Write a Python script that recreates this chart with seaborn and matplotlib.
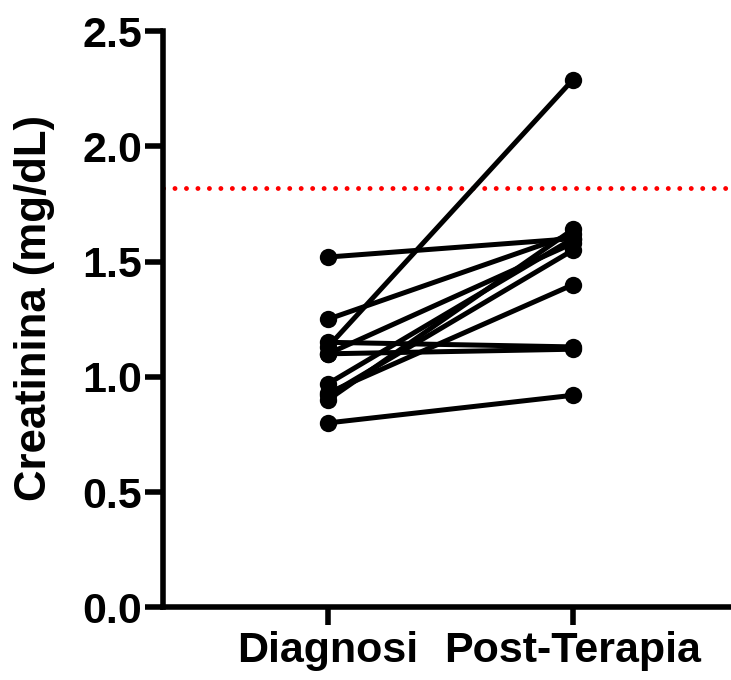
import numpy as np
import pandas as pd
import matplotlib
matplotlib.use("Agg")
import matplotlib.pyplot as plt
import seaborn as sns

# Data
groups = ["Diagnosi", "Post-Terapia"]
diagnosi = [1.52, 1.25, 1.13, 1.15, 1.10, 1.10, 0.97, 0.93, 0.92, 0.90, 0.80]
post_terapia = [1.60, 1.62, 2.29, 1.13, 1.12, 1.58, 1.60, 1.40, 1.55, 1.64, 0.92]
threshold = 1.82
y_ticks = [0.0, 0.5, 1.0, 1.5, 2.0, 2.5]
y_label = "Creatinina (mg/dL)"

rows = []
for i, (a, b) in enumerate(zip(diagnosi, post_terapia)):
    rows.append({"id": i, "group": groups[0], "value": a})
    rows.append({"id": i, "group": groups[1], "value": b})
df = pd.DataFrame(rows)

sns.set_style("ticks")
plt.rcParams["font.family"] = ["Liberation Sans", "DejaVu Sans"]
plt.rcParams["font.weight"] = "bold"

fig = plt.figure(figsize=(7.31, 6.8), dpi=100)
ax = fig.add_axes([0.223, 0.107, 0.777, 0.847])

ax.axhline(threshold, color="#ff0000", lw=3.5, linestyle=(0, (0.01, 2.35)),
           dash_capstyle="round", zorder=1)

sns.lineplot(data=df, x="group", y="value", units="id", estimator=None,
             color="black", lw=3.6, marker="o", markersize=12.5,
             markeredgewidth=0, ax=ax, zorder=3)

ax.set_xlim(-0.673, 1.645)
ax.set_ylim(0, 2.5)
ax.set_yticks(y_ticks)
ax.set_yticklabels([f"{t:.1f}" for t in y_ticks])
ax.set_xlabel("")
ax.set_ylabel(y_label, fontsize=31.5, fontweight="bold", color="black")
ax.yaxis.set_label_coords(-0.19, 0.52)

for s in ["top", "right"]:
    ax.spines[s].set_visible(False)
for s in ["left", "bottom"]:
    ax.spines[s].set_linewidth(4)
    ax.spines[s].set_color("black")

ax.tick_params(axis="both", length=13, width=4, color="black",
               labelsize=31, labelcolor="black")
ax.tick_params(axis="y", pad=2)
ax.tick_params(axis="x", pad=4)
for lab in ax.get_xticklabels() + ax.get_yticklabels():
    lab.set_fontweight("bold")

fig.savefig("out.png", dpi=100)
